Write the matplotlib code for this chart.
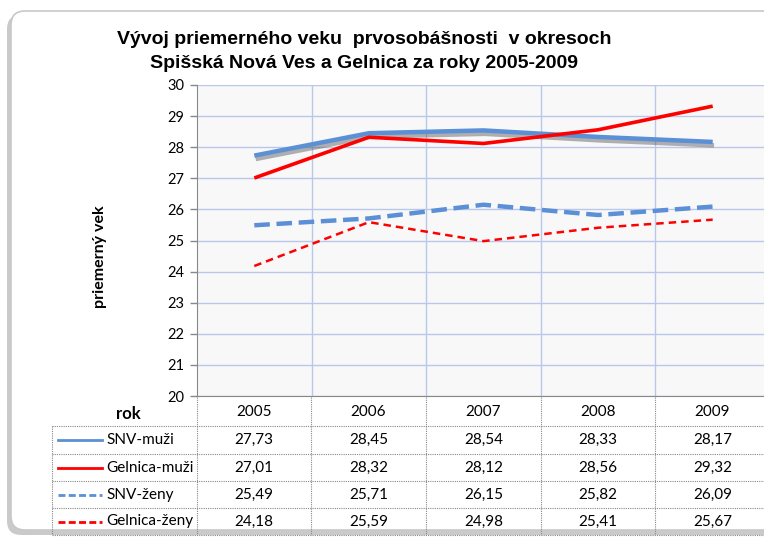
import matplotlib
matplotlib.use("Agg")
import matplotlib.pyplot as plt
import matplotlib.patheffects as pe
from matplotlib.patches import FancyBboxPatch
from matplotlib.lines import Line2D

years = ["2005", "2006", "2007", "2008", "2009"]
series_names = ["SNV-muži", "Gelnica-muži", "SNV-ženy", "Gelnica-ženy"]
snv_muzi = [27.73, 28.45, 28.54, 28.33, 28.17]
gelnica_muzi = [27.01, 28.32, 28.12, 28.56, 29.32]
snv_zeny = [25.49, 25.71, 26.15, 25.82, 26.09]
gelnica_zeny = [24.18, 25.59, 24.98, 25.41, 25.67]
y_ticks = [20, 21, 22, 23, 24, 25, 26, 27, 28, 29, 30]

series = [snv_muzi, gelnica_muzi, snv_zeny, gelnica_zeny]
colors = ["#5b8fd6", "#ff0000", "#5b8fd6", "#ff0000"]
styles = ["-", "-", (0, (3.5, 1.5)), (0, (3, 2))]
widths = [3.2, 2.6, 3.2, 1.8]

W, H = 764, 538
fig = plt.figure(figsize=(W / 100, H / 100), dpi=100)

# background overlay axes in pixel coords
bg = fig.add_axes([0, 0, 1, 1], zorder=0)
bg.set_xlim(0, W)
bg.set_ylim(H, 0)
bg.axis("off")

# frame shadow and frame
shadow = FancyBboxPatch((7, 15), 800, 520, boxstyle="round,pad=0,rounding_size=14",
                        facecolor="#a8a8a8", edgecolor="none", alpha=0.6)
bg.add_patch(shadow)
frame = FancyBboxPatch((11, 11), 800, 519, boxstyle="round,pad=0,rounding_size=14",
                       facecolor="white", edgecolor="#c8c8c8", linewidth=1.2)
bg.add_patch(frame)

# title
title_font = dict(family=["Liberation Sans Narrow", "Liberation Sans", "DejaVu Sans"],
                  fontweight="bold", fontsize=14, color="black")
bg.text(364, 40, "Vývoj priemerného veku  prvosobášnosti  v okresoch",
        ha="center", va="center", **title_font)
bg.text(364, 63, "Spišská Nová Ves a Gelnica za roky 2005-2009",
        ha="center", va="center", **title_font)

# main plot axes
left_px, right_px, top_px, bot_px = 197, 770, 85, 396
ax = fig.add_axes([left_px / W, (H - bot_px) / H, (right_px - left_px) / W,
                   (bot_px - top_px) / H], zorder=2)
ax.set_facecolor("#f8f8f8")
x = list(range(len(years)))
for vals, c, ls, lw, name in zip(series, colors, styles, widths, series_names):
    effects = None
    if name == "SNV-muži":
        effects = [pe.SimpleLineShadow(offset=(1, -2.5), shadow_color="#555555", alpha=0.45),
                   pe.Normal()]
    ax.plot(x, vals, color=c, linestyle=ls, linewidth=lw, solid_capstyle="butt",
            path_effects=effects, zorder=3)
ax.set_xlim(-0.5, len(years) - 0.5)
ax.set_ylim(20, 30)
ax.set_yticks(y_ticks)
ax.set_yticklabels([str(t) for t in y_ticks], family=["Lato", "DejaVu Sans"], fontsize=10.5)
ax.set_xticks([i + 0.5 for i in range(len(years) - 1)], minor=False)
ax.set_xticklabels([])
ax.tick_params(axis="x", length=0)
ax.tick_params(axis="y", length=5, color="#888888", width=1, pad=4)
ax.grid(True, color="#b9c8ea", linewidth=1)
for s in ["top", "right"]:
    ax.spines[s].set_visible(False)
ax.spines["left"].set_color("#888888")
ax.spines["bottom"].set_color("#888888")
ax.set_ylabel("priemerný vek", family=["Lato", "DejaVu Sans"],
              fontweight="bold", fontsize=11.5)
ax.yaxis.set_label_coords((107 - left_px) / (right_px - left_px),
                          (bot_px - 257) / (bot_px - top_px))

# table
tbl_font = dict(family=["Lato", "DejaVu Sans"], fontsize=11, color="black")
col_edges = [197, 311, 426, 541, 655, 770]
row_edges = [397, 426, 454, 481, 508, 535]
dot = dict(color="#888888", linewidth=0.8, linestyle=(0, (1, 1)))
for xe in col_edges:
    bg.plot([xe, xe], [row_edges[0], row_edges[-1]], **dot)
bg.plot([52, 52], [row_edges[1], row_edges[-1]], **dot)
for ye in row_edges[1:]:
    bg.plot([52, 770], [ye, ye], **dot)
bg.text(128, 414, "rok", ha="center", va="center",
        family=["Lato", "DejaVu Sans"], fontweight="bold", fontsize=12)
for j, yr in enumerate(years):
    xc = (col_edges[j] + col_edges[j + 1]) / 2
    bg.text(xc, 412, yr, ha="center", va="center", **tbl_font)
for i, (vals, name, c, ls, lw) in enumerate(zip(series, series_names, colors, styles, widths)):
    yc = (row_edges[i + 1] + row_edges[i + 2]) / 2
    bg.add_line(Line2D([58, 102], [yc, yc], color=c, linestyle=(0, (2.5, 1.2)) if i >= 2 else "-",
                       linewidth=2))
    bg.text(106, yc, name, ha="left", va="center", **tbl_font)
    for j, v in enumerate(vals):
        xc = (col_edges[j] + col_edges[j + 1]) / 2
        bg.text(xc, yc, f"{v:.2f}".replace(".", ","), ha="center", va="center", **tbl_font)

fig.savefig("out.png", dpi=100)
